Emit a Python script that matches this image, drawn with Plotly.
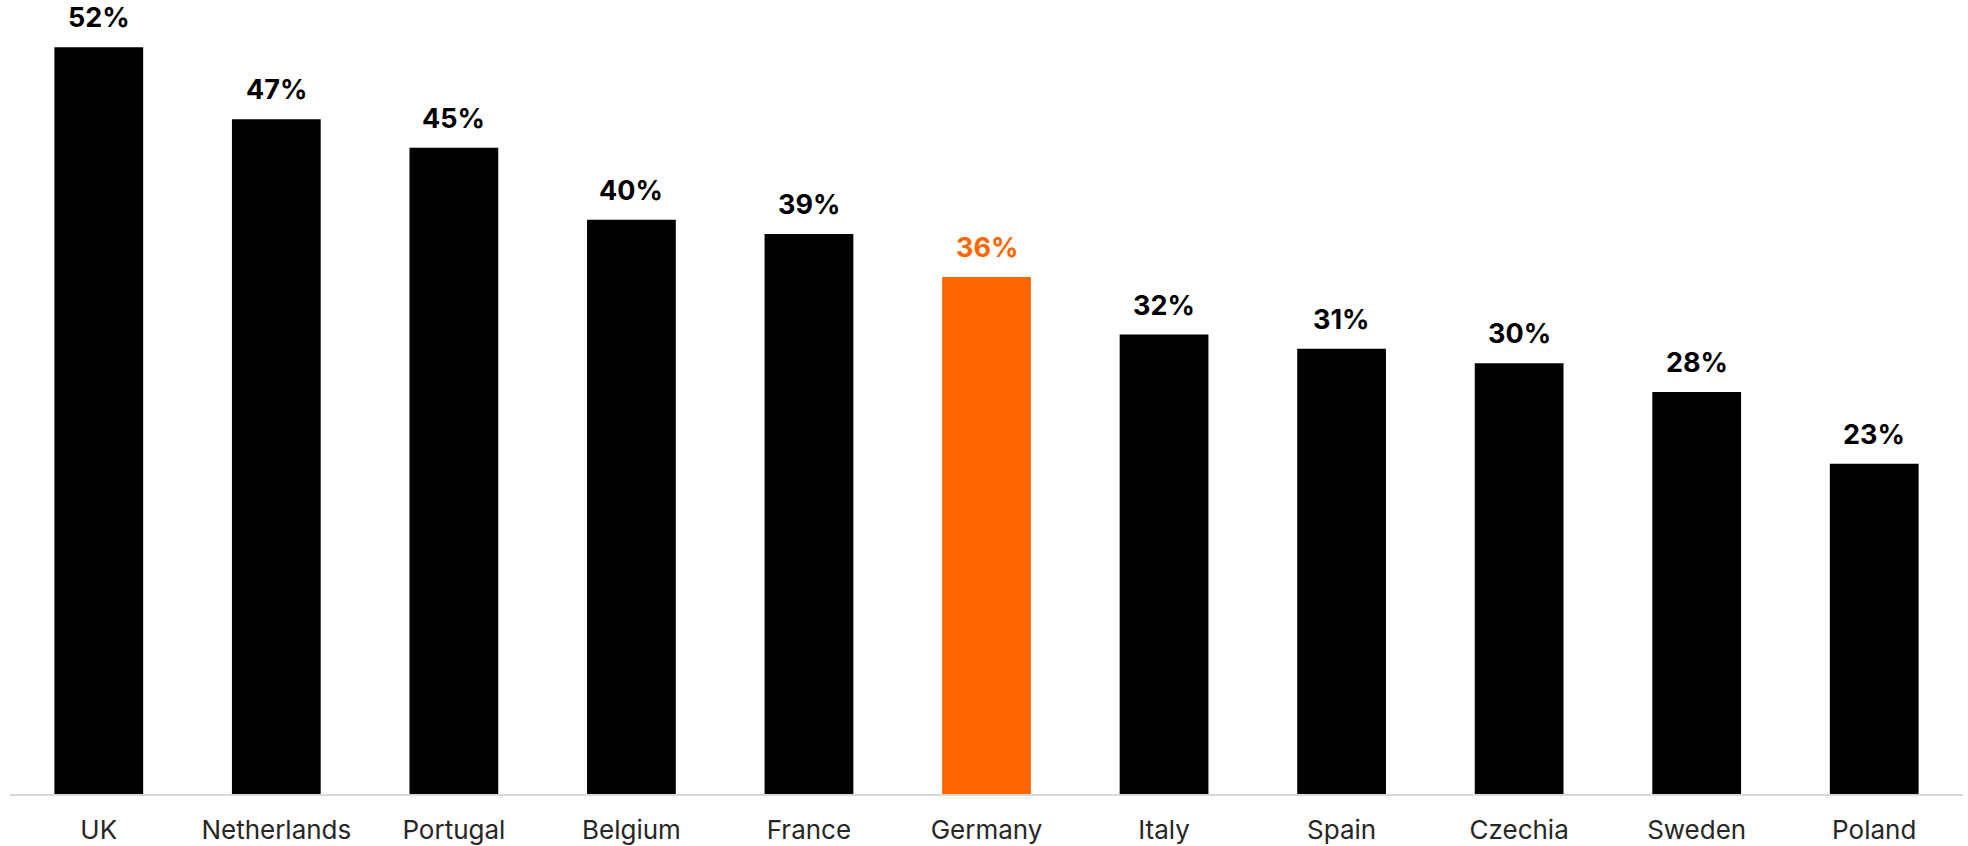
import plotly.graph_objects as go

# Share by country, in percent
countries = ["UK", "Netherlands", "Portugal", "Belgium", "France", "Germany",
             "Italy", "Spain", "Czechia", "Sweden", "Poland"]
shares = [52, 47, 45, 40, 39, 36, 32, 31, 30, 28, 23]
highlight = "Germany"

BLACK = "#000000"
ORANGE = "#FF6600"
FONT = "Inter, Lato, 'Open Sans', sans-serif"

colors = [ORANGE if c == highlight else BLACK for c in countries]

fig = go.Figure(
    go.Bar(
        x=countries,
        y=shares,
        marker=dict(color=colors, line=dict(width=0)),
        hoverinfo="skip",
    )
)

# Value labels above each bar
for c, v, col in zip(countries, shares, colors):
    fig.add_annotation(
        x=c, y=v, text=f"<b>{v}%</b>", showarrow=False,
        yanchor="bottom", yshift=11,
        font=dict(family=FONT, size=27, color=col),
    )

fig.update_layout(
    width=1968, height=846,
    margin=dict(l=10, r=5, t=10, b=52, autoexpand=False),
    paper_bgcolor="white", plot_bgcolor="white",
    bargap=0.5,
    showlegend=False,
    font=dict(family=FONT),
)
fig.update_xaxes(
    showline=True, linecolor="#d9d9d9", linewidth=2,
    ticks="", showgrid=False, automargin=False,
    tickfont=dict(family=FONT, size=26, color="#262626"),
    ticklabelstandoff=12,
    range=[-0.5, len(countries) - 0.5],
)
fig.update_yaxes(
    visible=False, range=[0, 54.6], showgrid=False, zeroline=False,
    automargin=False,
)

fig.write_html("out.html")
